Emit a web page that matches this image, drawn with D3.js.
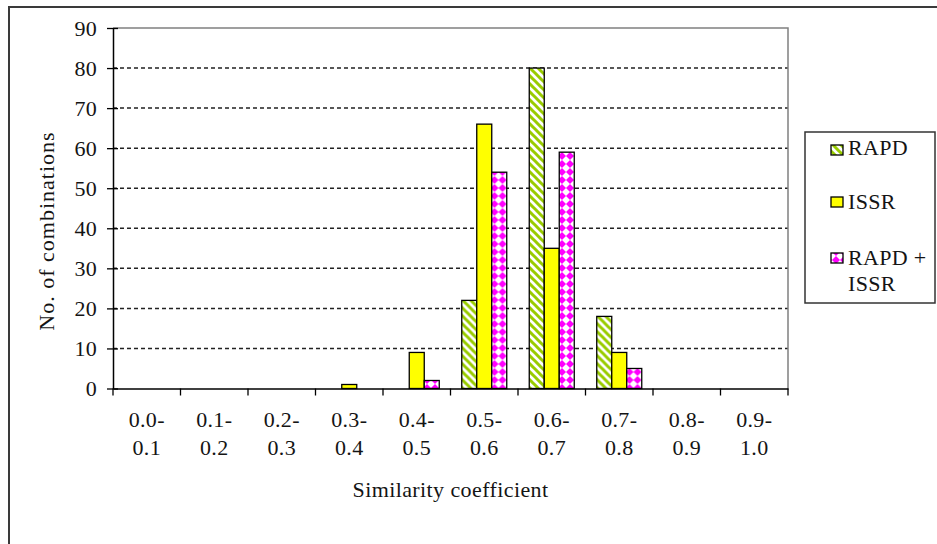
<!DOCTYPE html>
<html>
<head>
<meta charset="utf-8">
<script src="https://cdn.jsdelivr.net/npm/d3@7"></script>
<style>
  html, body { margin: 0; padding: 0; background: #fff; }
  svg { display: block; }
</style>
</head>
<body>
<script>
// Similarity-coefficient classes (two-line labels)
const categories = ["0.0-0.1", "0.1-0.2", "0.2-0.3", "0.3-0.4", "0.4-0.5",
                    "0.5-0.6", "0.6-0.7", "0.7-0.8", "0.8-0.9", "0.9-1.0"];
const labelTop    = ["0.0-", "0.1-", "0.2-", "0.3-", "0.4-", "0.5-", "0.6-", "0.7-", "0.8-", "0.9-"];
const labelBottom = ["0.1", "0.2", "0.3", "0.4", "0.5", "0.6", "0.7", "0.8", "0.9", "1.0"];

const seriesNames = ["RAPD", "ISSR", "RAPD + ISSR"];
const rapd     = [0, 0, 0, 0, 0, 22, 80, 18, 0, 0];
const issr     = [0, 0, 0, 1, 9, 66, 35, 9, 0, 0];
const combined = [0, 0, 0, 0, 2, 54, 59, 5, 0, 0];

const yTicks = [0, 10, 20, 30, 40, 50, 60, 70, 80, 90];

const W = 937, H = 544;
const plot = { left: 113, right: 788, top: 28, bottom: 388.5 };
const FONT = "Liberation Serif";
const FS = 22;
const INK = "#141414";

const svg = d3.select("body").append("svg")
  .attr("width", W).attr("height", H);

// serif face for a single-line text element
function serif(sel, spacing = 0.3) {
  return sel
    .attr("font-family", FONT)
    .style("font-family", `"${FONT}"`)
    .attr("font-size", FS)
    .attr("letter-spacing", spacing)
    .attr("fill", INK);
}

// fill patterns
const defs = svg.append("defs");
const stripe = defs.append("pattern")
  .attr("id", "pat-rapd").attr("patternUnits", "userSpaceOnUse")
  .attr("width", 8).attr("height", 8);
stripe.append("rect").attr("width", 8).attr("height", 8).attr("fill", "#fff");
stripe.append("path")
  .attr("d", "M-2,-2 L10,10 M-2,6 L2,10 M6,-2 L10,2")
  .attr("stroke", "#99cc00").attr("stroke-width", 3);

const diamond = defs.append("pattern")
  .attr("id", "pat-combo").attr("patternUnits", "userSpaceOnUse")
  .attr("width", 8).attr("height", 8);
diamond.append("rect").attr("width", 8).attr("height", 8).attr("fill", "#fff");
diamond.append("path")
  .attr("d", "M4,0 L8,4 L4,8 L0,4 Z")
  .attr("fill", "#ff00ff");

const fills = ["url(#pat-rapd)", "#ffff00", "url(#pat-combo)"];

// outer chart frame
svg.append("rect")
  .attr("x", 9).attr("y", 7).attr("width", 1000).attr("height", 600)
  .attr("fill", "none").attr("stroke", "#3a3a3a").attr("stroke-width", 2);

// scales
const x0 = d3.scaleBand().domain(categories).range([plot.left, plot.right]).padding(0);
const gapRatio = 1.5;
const barW = x0.bandwidth() / (3 + gapRatio);
const x1 = d3.scaleBand().domain(seriesNames)
  .range([barW * gapRatio / 2, x0.bandwidth() - barW * gapRatio / 2]).padding(0);
const y = d3.scaleLinear().domain([0, 90]).range([plot.bottom, plot.top]);

// dashed gridlines
svg.append("g").selectAll("line")
  .data(yTicks.filter(d => d > 0 && d < 90))
  .join("line")
  .attr("x1", plot.left).attr("x2", plot.right)
  .attr("y1", d => y(d)).attr("y2", d => y(d))
  .attr("stroke", "#222").attr("stroke-width", 1.5)
  .attr("stroke-dasharray", "4,3");

// plot-area border (top and right)
svg.append("path")
  .attr("d", `M${plot.left},${y(90)} H${plot.right} V${plot.bottom}`)
  .attr("fill", "none").attr("stroke", "#808080").attr("stroke-width", 1.5);

// bars
const rows = categories.map((c, i) => ({ c, vals: [rapd[i], issr[i], combined[i]] }));
const groups = svg.append("g").selectAll("g")
  .data(rows).join("g")
  .attr("transform", d => `translate(${x0(d.c)},0)`);
groups.selectAll("rect")
  .data(d => d.vals.map((v, k) => ({ v, k })).filter(e => e.v > 0))
  .join("rect")
  .attr("x", e => x1(seriesNames[e.k]))
  .attr("width", x1.bandwidth())
  .attr("y", e => y(e.v))
  .attr("height", e => y(0) - y(e.v))
  .attr("fill", e => fills[e.k])
  .attr("stroke", "#000").attr("stroke-width", 1.3);

// y axis
const yAxis = svg.append("g")
  .attr("transform", `translate(${plot.left},0)`)
  .call(d3.axisLeft(y).tickValues(yTicks).tickSize(0).tickPadding(16));
serif(yAxis);
yAxis.select(".domain").attr("stroke", "#000").attr("stroke-width", 1.5);
serif(yAxis.selectAll(".tick text"));
yAxis.selectAll(".tick").append("line")
  .attr("x1", -6).attr("x2", 5).attr("stroke", "#000").attr("stroke-width", 1.3);

// x axis
const xAxis = svg.append("g")
  .attr("transform", `translate(0,${plot.bottom})`)
  .call(d3.axisBottom(x0).tickValues([]).tickSizeOuter(0));
xAxis.select(".domain").attr("stroke", "#000").attr("stroke-width", 1.5);
xAxis.selectAll("line.edge")
  .data(d3.range(categories.length + 1))
  .join("line").attr("class", "edge")
  .attr("x1", i => plot.left + i * x0.bandwidth())
  .attr("x2", i => plot.left + i * x0.bandwidth())
  .attr("y1", 0).attr("y2", 7)
  .attr("stroke", "#000").attr("stroke-width", 1.3);

// two-line category labels, one text element per line
const xl = svg.append("g");
categories.forEach((c, i) => {
  const cx = x0(c) + x0.bandwidth() / 2;
  serif(xl.append("text")).attr("text-anchor", "middle")
    .attr("x", cx).attr("y", 427).text(labelTop[i]);
  serif(xl.append("text")).attr("text-anchor", "middle")
    .attr("x", cx).attr("y", 455).text(labelBottom[i]);
});

// axis titles
serif(svg.append("text"), 0.4)
  .attr("x", (plot.left + plot.right) / 2).attr("y", 497)
  .attr("text-anchor", "middle")
  .text("Similarity coefficient");

serif(svg.append("text"), 1)
  .attr("transform", "translate(54,231) rotate(-90)")
  .attr("text-anchor", "middle")
  .text("No. of combinations");

// legend
const legend = svg.append("g");
legend.append("rect")
  .attr("x", 805).attr("y", 132).attr("width", 130).attr("height", 171)
  .attr("fill", "#fff").attr("stroke", "#333").attr("stroke-width", 1.5);
const legendItems = [
  { lines: ["RAPD"], swatchY: 145, baseY: 155 },
  { lines: ["ISSR"], swatchY: 197, baseY: 209 },
  { lines: ["RAPD +", "ISSR"], swatchY: 253, baseY: 265 }
];
legendItems.forEach((it, k) => {
  legend.append("rect")
    .attr("x", 831).attr("y", it.swatchY).attr("width", 12).attr("height", 10)
    .attr("fill", fills[k]).attr("stroke", "#000").attr("stroke-width", 1.3);
  it.lines.forEach((ln, j) => {
    serif(legend.append("text"))
      .attr("x", 848).attr("y", it.baseY + j * 26).text(ln);
  });
});
</script>
</body>
</html>
